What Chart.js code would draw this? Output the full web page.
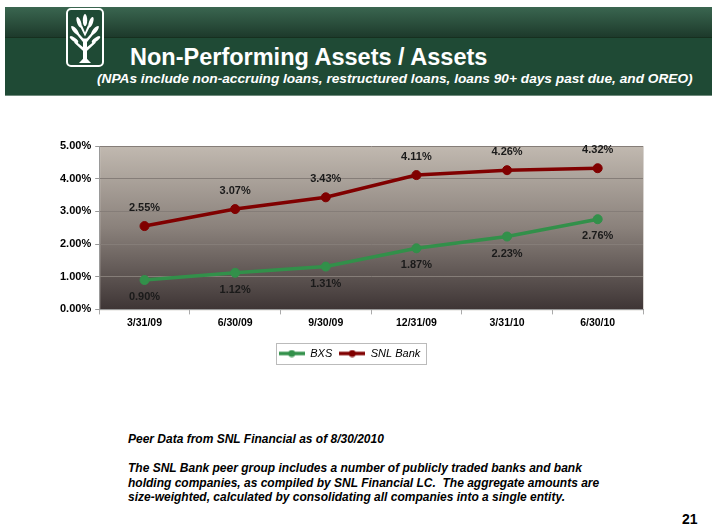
<!DOCTYPE html>
<html>
<head>
<meta charset="utf-8">
<script src="https://cdn.jsdelivr.net/npm/chart.js@4.4.1/dist/chart.umd.min.js"></script>
<style>
  html, body { margin: 0; padding: 0; background: #fff; }
  body { width: 720px; height: 532px; position: relative; overflow: hidden; font-family: "Liberation Sans", Arial, sans-serif; }
  .header { position: absolute; left: 5px; top: 7px; width: 707px; height: 88px; background: #1f4a35; border-bottom: 1px solid #6f8a7c; }
  .header .band { position: absolute; left: 0; top: 0; width: 100%; height: 30px; background: linear-gradient(#3a6650, #1d3a2b); border-bottom: 1px solid #16301f; }
  .logo { position: absolute; left: 61px; top: 1px; width: 38px; height: 59px; }
  .title { position: absolute; left: 125px; top: 37px; color: #fff; font-weight: bold; font-size: 23.5px; white-space: nowrap; }
  .subtitle { position: absolute; left: 92px; top: 64px; color: #fff; font-weight: bold; font-style: italic; font-size: 13.7px; white-space: nowrap; }
  #wrap { position: absolute; left: 0; top: 130px; width: 720px; height: 245px; }
  .note { position: absolute; left: 128px; color: #000; font-weight: bold; font-style: italic; font-size: 12px; line-height: 14.5px; white-space: nowrap; }
  .page { position: absolute; left: 682px; top: 511px; font-weight: bold; font-size: 14px; }
</style>
</head>
<body>
<div class="header">
  <div class="band"></div>
  <svg class="logo" viewBox="0 0 38 58" preserveAspectRatio="none">
    <rect x="1" y="1" width="36" height="56" rx="4" fill="#1f4a35" stroke="#fff" stroke-width="2"/>
    <g fill="#fff">
      <rect x="17" y="30" width="4" height="22"/>
      <ellipse cx="19" cy="12" rx="2.2" ry="6"/>
      <ellipse cx="13" cy="14" rx="2" ry="5.5" transform="rotate(-20 13 14)"/>
      <ellipse cx="25" cy="14" rx="2" ry="5.5" transform="rotate(20 25 14)"/>
      <ellipse cx="9" cy="22" rx="2" ry="5.5" transform="rotate(-40 9 22)"/>
      <ellipse cx="29" cy="22" rx="2" ry="5.5" transform="rotate(40 29 22)"/>
      <ellipse cx="8" cy="31" rx="1.8" ry="5" transform="rotate(-55 8 31)"/>
      <ellipse cx="30" cy="31" rx="1.8" ry="5" transform="rotate(55 30 31)"/>
      <path d="M19 44 L8 34 L10 33 L19 40 L28 33 L30 34 Z"/>
      <path d="M19 36 L10 25 L12 24 L19 32 L26 24 L28 25 Z"/>
      <path d="M19 28 L14 18 L16 17 L19 24 L22 17 L24 18 Z"/>
      <path d="M13 54 L19 48 L25 54 Z"/>
    </g>
  </svg>
  <div class="title">Non-Performing Assets / Assets</div>
  <div class="subtitle">(NPAs include non-accruing loans, restructured loans, loans 90+ days past due, and OREO)</div>
</div>

<div id="wrap"><canvas id="chart"></canvas></div>

<div class="note" style="top:432px;">Peer Data from SNL Financial as of 8/30/2010</div>
<div class="note" style="top:461px;">The SNL Bank peer group includes a number of publicly traded banks and bank<br>holding companies, as compiled by SNL Financial LC.&nbsp; The aggregate amounts are<br>size-weighted, calculated by consolidating all companies into a single entity.</div>
<div class="page">21</div>

<script>
// --- data ---
const quarters = ["3/31/09", "6/30/09", "9/30/09", "12/31/09", "3/31/10", "6/30/10"];
const bxsValues = [0.90, 1.12, 1.31, 1.87, 2.23, 2.76];
const snlValues = [2.55, 3.07, 3.43, 4.11, 4.26, 4.32];
const yTicks = [0, 1, 2, 3, 4, 5];

const bxsColor = "#32904a";
const snlColor = "#800000";
const fontFamily = "'Liberation Sans', Arial, sans-serif";

// legend marker: line with a dot in the middle
function legendMarker(color) {
  const c = document.createElement("canvas");
  c.width = 26; c.height = 8;
  const ctx = c.getContext("2d");
  ctx.strokeStyle = color; ctx.lineWidth = 3.5;
  ctx.beginPath(); ctx.moveTo(0, 4); ctx.lineTo(26, 4); ctx.stroke();
  ctx.fillStyle = color;
  ctx.beginPath(); ctx.arc(13, 4, 3.5, 0, Math.PI * 2); ctx.fill();
  return c;
}

// plot background gradient
const plotBg = {
  id: "plotBg",
  beforeDraw(chart) {
    const { ctx, chartArea: a } = chart;
    const g = ctx.createLinearGradient(0, a.top, 0, a.bottom);
    g.addColorStop(0, "#c1b9b0");
    g.addColorStop(0.5, "#8a817b");
    g.addColorStop(1, "#3e3535");
    ctx.save();
    ctx.fillStyle = g;
    ctx.fillRect(a.left, a.top, a.right - a.left, a.bottom - a.top);
    ctx.strokeStyle = "#d8d4d0";
    ctx.lineWidth = 1;
    ctx.strokeRect(a.left + 0.5, a.top + 0.5, a.right - a.left, a.bottom - a.top);
    ctx.restore();
  }
};

// value labels: SNL above, BXS below
const pointLabels = {
  id: "pointLabels",
  afterDatasetsDraw(chart) {
    const { ctx } = chart;
    ctx.save();
    ctx.font = "bold 11px " + fontFamily;
    ctx.fillStyle = "#1a1a1a";
    ctx.textAlign = "center";
    ctx.textBaseline = "middle";
    chart.data.datasets.forEach((ds, i) => {
      const meta = chart.getDatasetMeta(i);
      meta.data.forEach((pt, j) => {
        const dy = ds.labelPos === "above" ? -18 : 17;
        ctx.fillText(ds.data[j].toFixed(2) + "%", pt.x, pt.y + dy);
      });
    });
    ctx.restore();
  }
};

// border around legend
const legendBox = {
  id: "legendBox",
  afterDraw(chart) {
    const lg = chart.legend;
    if (!lg || !lg.legendHitBoxes.length) return;
    const boxes = lg.legendHitBoxes;
    const x0 = boxes[0].left - 3;
    const last = boxes[boxes.length - 1];
    const x1 = last.left + last.width + 5;
    const y0 = boxes[0].top - 5;
    const y1 = boxes[0].top + boxes[0].height + 5;
    const { ctx } = chart;
    ctx.save();
    ctx.strokeStyle = "#bbbbbb";
    ctx.lineWidth = 1;
    ctx.strokeRect(Math.round(x0) + 0.5, Math.round(y0) + 0.5, Math.round(x1 - x0), Math.round(y1 - y0));
    ctx.restore();
  }
};

new Chart(document.getElementById("chart"), {
  type: "line",
  data: {
    labels: quarters,
    datasets: [
      {
        label: "BXS",
        data: bxsValues,
        labelPos: "below",
        borderColor: bxsColor,
        backgroundColor: bxsColor,
        borderWidth: 3.5,
        pointRadius: 4.5,
        pointBorderWidth: 1,
        pointHoverRadius: 4.5,
        tension: 0
      },
      {
        label: "SNL Bank",
        data: snlValues,
        labelPos: "above",
        borderColor: snlColor,
        backgroundColor: snlColor,
        borderWidth: 3.5,
        pointRadius: 4.5,
        pointBorderWidth: 1,
        pointHoverRadius: 4.5,
        tension: 0
      }
    ]
  },
  options: {
    responsive: true,
    maintainAspectRatio: false,
    animation: false,
    layout: { padding: { left: 56, right: 77, top: 16, bottom: 6 } },
    scales: {
      x: {
        offset: true,
        afterFit(axis) { axis.height += 10; },
        border: { display: true, color: "#999" },
        grid: { display: true, drawOnChartArea: false, drawTicks: true, tickLength: 5, offset: true, color: "#aaa" },
        ticks: { color: "#000", font: { family: fontFamily, size: 10.5, weight: "bold" }, padding: 2 }
      },
      y: {
        min: 0,
        max: 5,
        afterBuildTicks(axis) { axis.ticks = yTicks.map(v => ({ value: v })); },
        border: { display: true, color: "#999" },
        grid: { color: "#857d78", tickLength: 4, tickColor: "#999" },
        ticks: {
          color: "#000",
          font: { family: fontFamily, size: 11, weight: "bold" },
          padding: 4,
          callback: v => v.toFixed(2) + "%"
        }
      }
    },
    plugins: {
      legend: {
        position: "bottom",
        labels: {
          usePointStyle: true,
          pointStyleWidth: 26,
          generateLabels(chart) {
            return chart.data.datasets.map((ds, i) => ({
              text: ds.label,
              pointStyle: legendMarker(ds.borderColor),
              fontColor: "#000",
              strokeStyle: ds.borderColor,
              fillStyle: ds.borderColor,
              lineWidth: 0,
              datasetIndex: i
            }));
          },
          font: { family: fontFamily, size: 11, style: "italic" },
          color: "#000",
          padding: 7,
          boxHeight: 8
        }
      },
      tooltip: { enabled: false }
    }
  },
  plugins: [plotBg, pointLabels, legendBox]
});
</script>
</body>
</html>
